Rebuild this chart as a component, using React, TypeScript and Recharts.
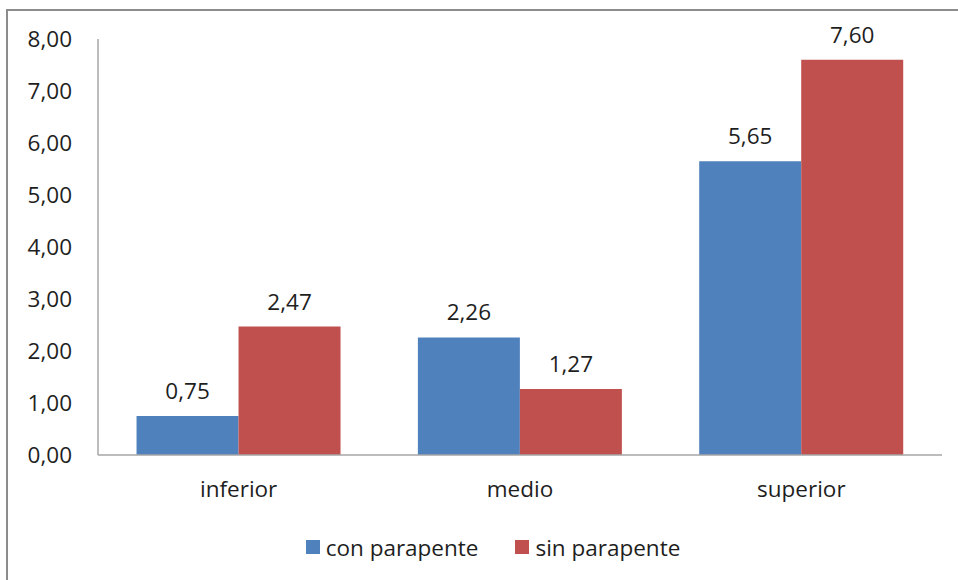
import React from "react";
import { BarChart, Bar, XAxis, YAxis, Legend, LabelList } from "recharts";

const categories = ["inferior", "medio", "superior"];
const conParapente = [0.75, 2.26, 5.65];
const sinParapente = [2.47, 1.27, 7.6];
const yTicks = [0, 1, 2, 3, 4, 5, 6, 7, 8];
const seriesNames = ["con parapente", "sin parapente"];
const seriesColors = ["#4F81BD", "#C0504D"];

const data = categories.map((c, i) => ({
  name: c,
  con: conParapente[i],
  sin: sinParapente[i],
}));

const fmt = (v: any) => Number(v).toFixed(2).replace(".", ",");
const FONT = "'Open Sans', sans-serif";
const FS = 22.5;

const LegendContent = () => (
  <div
    style={{
      height: 30,
      display: "flex",
      justifyContent: "center",
      alignItems: "center",
      fontFamily: FONT,
      fontSize: FS,
      color: "#1e1e1e",
      paddingLeft: 44,
    }}
  >
    {seriesNames.map((n, i) => (
      <div key={n} style={{ display: "flex", alignItems: "center", marginRight: i === 0 ? 37 : 0 }}>
        <div style={{ width: 14, height: 14, background: seriesColors[i], marginRight: 6 }} />
        <span>{n}</span>
      </div>
    ))}
  </div>
);

export default function App() {
  return (
    <div style={{ position: "absolute", left: 0, top: 0, width: 958, height: 580, background: "#fff", overflow: "hidden" }}>
      <div
        style={{
          position: "absolute",
          left: 6,
          top: 9,
          width: 1000,
          height: 1000,
          borderTop: "2px solid #8c8c8c",
          borderLeft: "2px solid #8c8c8c",
        }}
      />
      <div style={{ position: "absolute", left: 0, top: 0 }}>
        <BarChart
          width={958}
          height={580}
          data={data}
          margin={{ top: 39, right: 16, left: 0, bottom: 18 }}
          barCategoryGap="13.7%"
          barGap={0}
        >
          <YAxis
            width={98}
            domain={[0, 8]}
            ticks={yTicks}
            interval={0}
            tickFormatter={fmt}
            tickLine={false}
            tickSize={0}
            tickMargin={26}
            axisLine={{ stroke: "#a6a6a6", strokeWidth: 1.5 }}
            tick={{ fill: "#1e1e1e", fontSize: FS, fontFamily: FONT }}
          />
          <XAxis
            dataKey="name"
            height={77}
            tickLine={false}
            tickSize={0}
            tickMargin={26}
            axisLine={{ stroke: "#a6a6a6", strokeWidth: 1.5 }}
            tick={{ fill: "#1e1e1e", fontSize: FS, fontFamily: FONT }}
          />
          <Legend verticalAlign="bottom" height={30} content={<LegendContent />} />
          <Bar dataKey="con" name={seriesNames[0]} fill={seriesColors[0]} isAnimationActive={false}>
            <LabelList dataKey="con" position="top" offset={17} formatter={fmt} fill="#1e1e1e" fontSize={FS} fontFamily={FONT} />
          </Bar>
          <Bar dataKey="sin" name={seriesNames[1]} fill={seriesColors[1]} isAnimationActive={false}>
            <LabelList dataKey="sin" position="top" offset={17} formatter={fmt} fill="#1e1e1e" fontSize={FS} fontFamily={FONT} />
          </Bar>
        </BarChart>
      </div>
    </div>
  );
}
